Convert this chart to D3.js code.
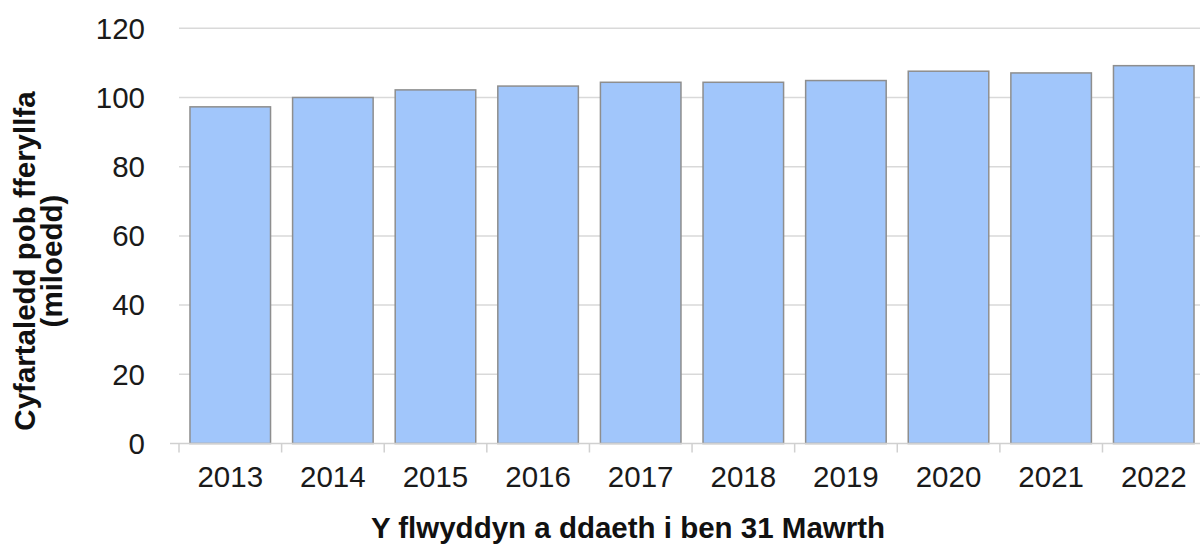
<!DOCTYPE html>
<html><head><meta charset="utf-8">
<script src="https://cdn.jsdelivr.net/npm/d3@7"></script>
<style>body{margin:0;background:#fff}text{font-family:"Liberation Sans",Arial,sans-serif}</style>
</head><body><svg id="c" width="1200" height="548"></svg>
<script>
const years = ["2013","2014","2015","2016","2017","2018","2019","2020","2021","2022"];
const values = [97.3,100.0,102.2,103.3,104.4,104.4,104.9,107.6,107.1,109.2];
const yTicks = [0,20,40,60,80,100,120];
const yTitle = ["Cyfartaledd pob fferyllfa","(miloedd)"];
const xTitle = "Y flwyddyn a ddaeth i ben 31 Mawrth";

(function(){
const svg = d3.select("#c");
const pL = 179, pR = 1205, pT = 28.3, pB = 443.5;
const fs = 29.5;
const x = d3.scaleBand().domain(years).range([pL, pR]).paddingInner(0.215).paddingOuter(0.107);
const y = d3.scaleLinear().domain([0,120]).range([pB, pT]);

// gridlines
svg.append("g").selectAll("line").data(yTicks.filter(d=>d>0)).join("line")
  .attr("x1", pL).attr("x2", 1200).attr("y1", d=>y(d)).attr("y2", d=>y(d))
  .attr("stroke", "#d9d9d9").attr("stroke-width", 1.5);

// y tick labels
svg.append("g").selectAll("text").data(yTicks).join("text")
  .attr("x", 145).attr("y", d=>y(d)).attr("dy", "0.35em")
  .attr("text-anchor", "end").attr("font-size", fs).attr("fill", "#1a1a1a")
  .text(d=>d);

// bars
svg.append("g").selectAll("rect").data(years).join("rect")
  .attr("x", d=>x(d)).attr("width", x.bandwidth())
  .attr("y", (d,i)=>y(values[i])).attr("height", (d,i)=>y(0)-y(values[i]))
  .attr("fill", "#a1c6fb").attr("stroke", "#8e8e8e").attr("stroke-width", 1.5);

// x axis line and ticks
svg.append("line").attr("x1", pL).attr("x2", 1200).attr("y1", pB).attr("y2", pB)
  .attr("stroke", "#d0d0d0").attr("stroke-width", 1.5);
const step = x.step();
const boundaries = years.map((d,i)=> pL + i*step).concat([pR]);
svg.append("g").selectAll("line").data(boundaries).join("line")
  .attr("x1", d=>d).attr("x2", d=>d).attr("y1", pB).attr("y2", pB+9)
  .attr("stroke", "#d0d0d0").attr("stroke-width", 1.5);
svg.append("line").attr("x1", pL-9).attr("x2", pL).attr("y1", pB).attr("y2", pB)
  .attr("stroke", "#d0d0d0").attr("stroke-width", 1.5);

// x tick labels
svg.append("g").selectAll("text").data(years).join("text")
  .attr("x", d=>x(d)+x.bandwidth()/2).attr("y", 487)
  .attr("text-anchor", "middle").attr("font-size", fs).attr("fill", "#1a1a1a")
  .text(d=>d);

// x title
svg.append("text").attr("x", 628).attr("y", 538).attr("text-anchor", "middle")
  .attr("font-size", fs).attr("font-weight", "bold").attr("fill", "#111").text(xTitle);

// y title
const yt = svg.append("text").attr("transform", "translate(35,261) rotate(-90)")
  .attr("text-anchor", "middle").attr("font-size", fs).attr("font-weight", "bold").attr("fill", "#111");
yt.selectAll("tspan").data(yTitle).join("tspan").attr("x", 0).attr("dy", (d,i)=> i===0 ? 0 : 27).text(d=>d);
})();
</script></body></html>
